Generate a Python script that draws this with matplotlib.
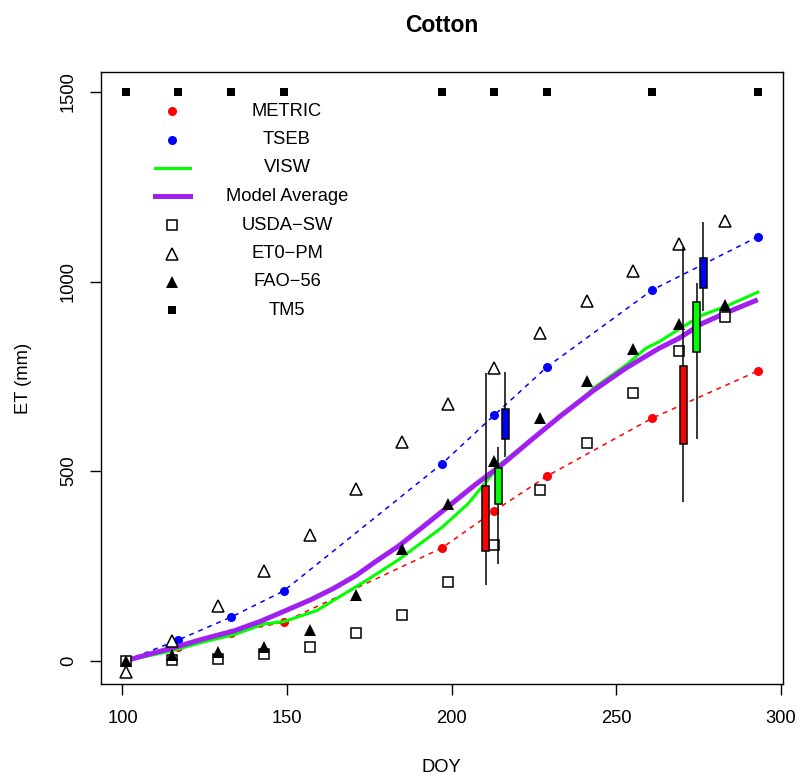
import matplotlib
matplotlib.use("Agg")
import matplotlib.pyplot as plt
from matplotlib.lines import Line2D
from matplotlib.patches import Rectangle

plt.rcParams['font.family'] = ['Liberation Sans', 'DejaVu Sans']

# ---------------- data ----------------
tm_doy = [101, 117, 133, 149, 197, 213, 229, 261, 293]
tm5 = [1500] * len(tm_doy)
metric = [0, 35, 73, 102, 297, 395, 487, 640, 764]
tseb = [0, 55, 115, 184, 519, 648, 775, 978, 1118]

gnd_doy = [101, 115, 129, 143, 157, 171, 185, 199, 213, 227, 241, 255, 269, 283]
usda_sw = [0, 3, 4, 18, 37, 73, 121, 207, 306, 449, 573, 707, 816, 906]
et0_pm = [-31, 53, 143, 237, 332, 454, 576, 677, 772, 865, 950, 1027, 1099, 1161]
fao56 = [0, 15, 22, 37, 82, 172, 295, 414, 526, 641, 739, 821, 888, 937]

visw_doy = [101, 115, 124, 134, 143, 149, 159, 174, 184, 197, 205, 215, 225, 233,
            239, 243, 253, 259, 263, 269, 276, 284, 293]
visw = [0, 26, 48, 69, 97, 103, 132, 211, 267, 351, 414, 520, 588, 645,
        684, 718, 780, 824, 841, 874, 911, 937, 972]

avg_doy = [101, 108, 115, 124, 134, 142, 149, 157, 164, 171, 177, 184, 192, 200,
           207, 215, 225, 233, 243, 253, 263, 269, 276, 284, 293]
avg = [0, 17, 33, 56, 79, 104, 130, 160, 190, 225, 262, 303, 358, 414,
       463, 515, 588, 645, 712, 772, 824, 850, 889, 920, 952]

# box summaries: position, whisker low, box low, box high, whisker high
box_pos = [210.4, 214.2, 216.3, 270.4, 274.4, 276.5]
box_wlo = [200, 255, 538, 419, 584, 923]
box_lo = [290, 413, 584, 572, 815, 982]
box_hi = [461, 509, 663, 776, 945, 1061]
box_whi = [759, 564, 762, 1092, 997, 1158]
box_col = ['#FF0000', '#00FF00', '#0000FF', '#FF0000', '#00FF00', '#0000FF']
box_w = 2.1

xticks = [100, 150, 200, 250, 300]
yticks = [0, 500, 1000, 1500]

RED, BLUE, GREEN, PURPLE = '#FF0000', '#0000FF', '#00FF00', '#A020F0'

# ---------------- figure ----------------
W, H = 802, 776
fig = plt.figure(figsize=(W / 100, H / 100), dpi=100)
L, R, T, B = 100.5, 783, 72, 684
ax = fig.add_axes([L / W, 1 - B / H, (R - L) / W, (B - T) / H])
ax.set_xlim(93.32, 300.68)
ax.set_ylim(-61.5, 1552.8)

fs = 13.2
# dashed model lines with points
ax.plot(tm_doy, metric, color=RED, lw=1.1, dashes=(3.2, 3.2), zorder=2)
ax.plot(tm_doy, tseb, color=BLUE, lw=1.1, dashes=(3.2, 3.2), zorder=2)
ax.plot(tm_doy, metric, 'o', color=RED, ms=6.5, mew=0, zorder=2.5)
ax.plot(tm_doy, tseb, 'o', color=BLUE, ms=6.5, mew=0, zorder=2.5)
# continuous lines
ax.plot(visw_doy, visw, color=GREEN, lw=2.2, zorder=3)
ax.plot(avg_doy, avg, color=PURPLE, lw=3.6, zorder=3.5, solid_capstyle='butt')

# ground data
ax.plot(gnd_doy, usda_sw, 's', mfc='white', mec='black', mew=1.1, ms=6.8, zorder=5)
ax.plot(gnd_doy, et0_pm, '^', mfc='white', mec='black', mew=1.1, ms=8.2, zorder=5)
ax.plot(gnd_doy, fao56, '^', color='black', mew=0, ms=8.6, zorder=5)
ax.plot(tm_doy, tm5, 's', color='black', mew=0, ms=6.4, zorder=5)

# boxes
for p, wl, lo, hi, wh, c in zip(box_pos, box_wlo, box_lo, box_hi, box_whi, box_col):
    ax.vlines(p, wl, wh, color='black', lw=1.1, zorder=6)
    ax.add_patch(Rectangle((p - box_w / 2, lo), box_w, hi - lo, facecolor=c,
                           edgecolor='black', lw=1.1, zorder=7))

# axes styling
ax.set_xticks(xticks)
ax.set_yticks(yticks)
ax.set_xticklabels([str(v) for v in xticks])
ax.set_yticklabels([str(v) for v in yticks])
ax.tick_params(axis='both', direction='out', length=8, width=1.0, labelsize=fs)
ax.tick_params(axis='x', pad=10.5)
ax.tick_params(axis='y', pad=9)
plt.setp(ax.get_yticklabels(), rotation=90, va='center')
for s in ax.spines.values():
    s.set_linewidth(1.0)

ax.set_xlabel('DOY', fontsize=fs)
ax.xaxis.set_label_coords(0.5, -0.1433)
ax.xaxis.label.set_va('baseline')
ax.set_ylabel('ET (mm)', fontsize=fs)
ax.yaxis.set_label_coords(-0.1058, 0.5)
ax.yaxis.label.set_va('baseline')

ax.text(0.5, 1.0658, 'Cotton', transform=ax.transAxes, ha='center', va='baseline',
        fontsize=16.5, fontweight='bold')

# legend (no frame, centered labels like R)
leg_labels = ['METRIC', 'TSEB', 'VISW', 'Model Average', 'USDA\u2212SW',
              'ET0\u2212PM', 'FAO\u221256', 'TM5']
y0 = (B - 111) / (B - T)
dy = 28.5 / (B - T)
xs = (172.3 - L) / (R - L)
xt = (287 - L) / (R - L)
xl0, xl1 = (155 - L) / (R - L), (190 - L) / (R - L)
tr = ax.transAxes
for i, lab in enumerate(leg_labels):
    yy = y0 - i * dy
    if i == 0:
        ax.add_line(Line2D([xs], [yy], marker='o', color=RED, ms=6.5, mew=0, transform=tr))
    elif i == 1:
        ax.add_line(Line2D([xs], [yy], marker='o', color=BLUE, ms=6.5, mew=0, transform=tr))
    elif i == 2:
        ax.add_line(Line2D([xl0, xl1], [yy, yy], color=GREEN, lw=2.2, transform=tr))
    elif i == 3:
        ax.add_line(Line2D([xl0, xl1], [yy, yy], color=PURPLE, lw=3.6, transform=tr))
    elif i == 4:
        ax.add_line(Line2D([xs], [yy], marker='s', mfc='white', mec='black', mew=1.1, ms=6.8, transform=tr))
    elif i == 5:
        ax.add_line(Line2D([xs], [yy], marker='^', mfc='white', mec='black', mew=1.1, ms=8.2, transform=tr))
    elif i == 6:
        ax.add_line(Line2D([xs], [yy], marker='^', color='black', mew=0, ms=8.6, transform=tr))
    else:
        ax.add_line(Line2D([xs], [yy], marker='s', color='black', mew=0, ms=6.4, transform=tr))
    ax.text(xt, yy, lab, transform=tr, ha='center', va='center', fontsize=fs)

fig.savefig('out.png', dpi=100)
